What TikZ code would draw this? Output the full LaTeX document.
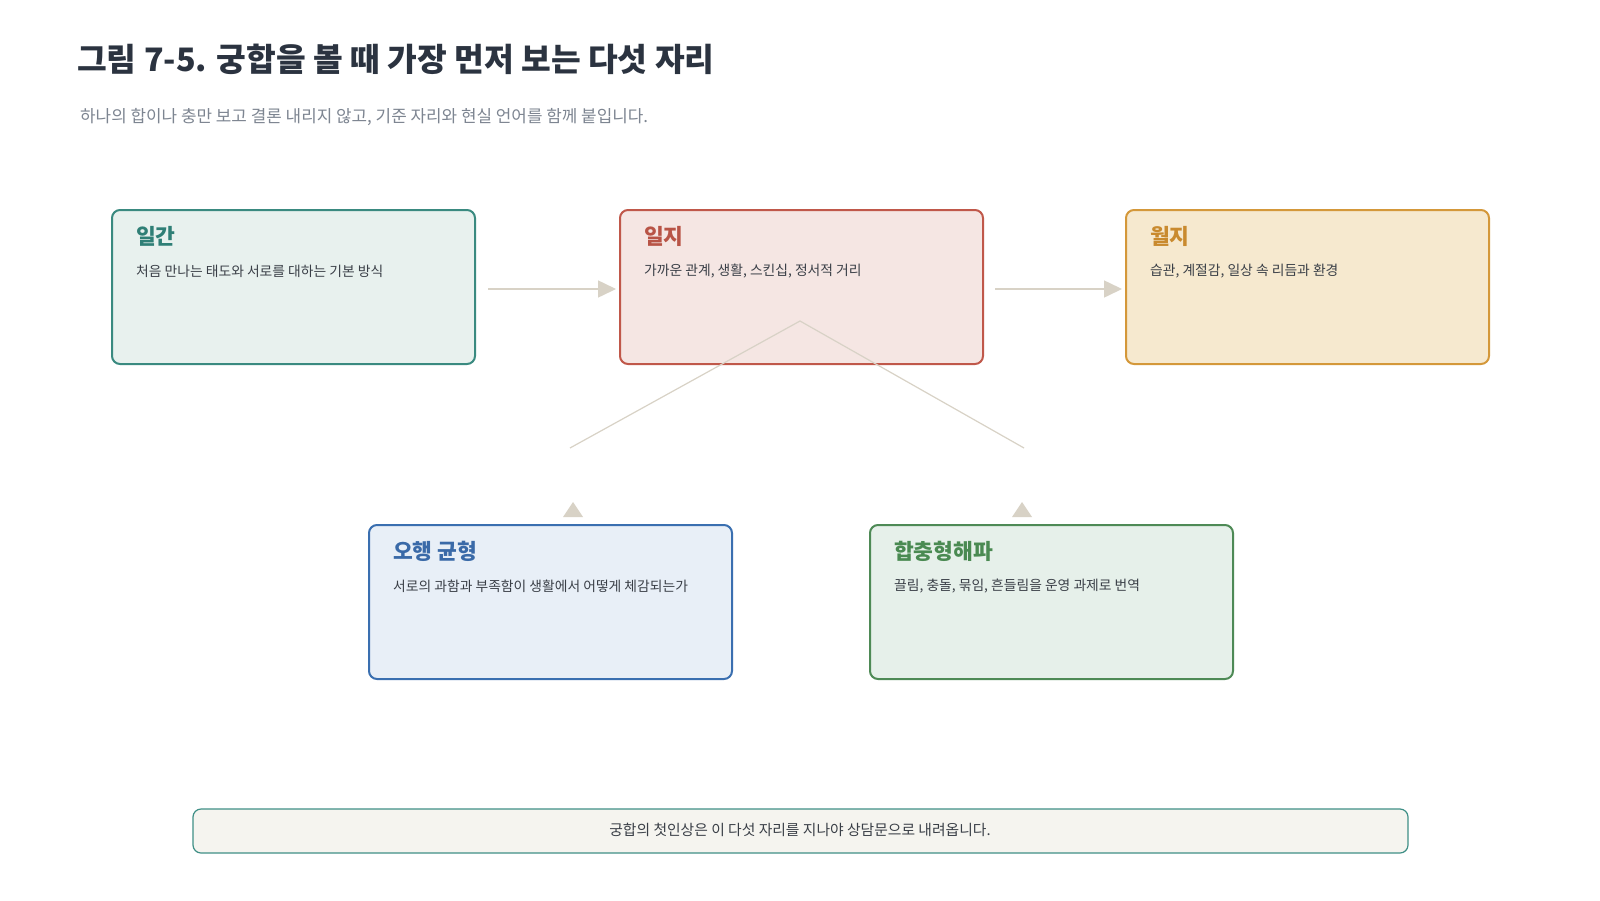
\documentclass[tikz,border=0pt]{standalone}
\usepackage{fontspec}
\setmainfont{Noto Sans CJK KR}
\usetikzlibrary{arrows.meta,calc}
\definecolor{ttl}{HTML}{2B3340}
\definecolor{sub}{HTML}{7D8591}
\definecolor{desc}{HTML}{3A3F47}
\definecolor{conn}{HTML}{D8D2C6}
\definecolor{aB}{HTML}{3A8A80}\definecolor{aF}{HTML}{E8F1EE}\definecolor{aT}{HTML}{2F7F76}
\definecolor{bB}{HTML}{C0584A}\definecolor{bF}{HTML}{F5E6E3}\definecolor{bT}{HTML}{B85446}
\definecolor{cB}{HTML}{D4983A}\definecolor{cF}{HTML}{F6E9CF}\definecolor{cT}{HTML}{C98A2E}
\definecolor{dB}{HTML}{3A6FB0}\definecolor{dF}{HTML}{E8EFF7}\definecolor{dT}{HTML}{3A6AA8}
\definecolor{eB}{HTML}{4E8A56}\definecolor{eF}{HTML}{E6F0EA}\definecolor{eT}{HTML}{4A8A52}
\definecolor{fB}{HTML}{3F8F86}\definecolor{fF}{HTML}{F5F4EF}
\tikzset{
  card/.style={draw, line width=2pt, rounded corners=8pt, minimum width=363pt, minimum height=154pt, inner sep=0pt, anchor=north west},
  cardtitle/.style={anchor=west, inner sep=0pt, font=\fontsize{21.5}{26}\selectfont\bfseries},
  carddesc/.style={anchor=west, inner sep=0pt, text=desc, font=\fontsize{13.8}{17}\selectfont},
  conn/.style={draw=conn, line width=1.5pt},
  tip/.style={fill=conn},
}
\begin{document}
\begin{tikzpicture}[x=1pt,y=-1pt]
\useasboundingbox[fill=white] (0,0) rectangle (1600,900);
\node[anchor=west, inner sep=0pt, text=ttl, font=\fontsize{32.3}{38}\selectfont\bfseries] (title) at (77,59) {그림 7-5. 궁합을 볼 때 가장 먼저 보는 다섯 자리};
\node[anchor=west, inner sep=0pt, text=sub, font=\fontsize{16.9}{20}\selectfont] (subtitle) at (80,117) {하나의 합이나 충만 보고 결론 내리지 않고, 기준 자리와 현실 언어를 함께 붙입니다.};

\node[card, draw=aB, fill=aF] (ilgan) at (111,209) {};
\node[card, draw=bB, fill=bF] (ilji) at (619,209) {};
\node[card, draw=cB, fill=cF] (wolji) at (1125,209) {};
\node[card, draw=dB, fill=dF] (ohaeng) at (368,524) {};
\node[card, draw=eB, fill=eF] (hap) at (869,524) {};

\foreach \n/\c/\t/\d in {ilgan/aT/일간/처음 만나는 태도와 서로를 대하는 기본 방식,
  ilji/bT/일지/가까운 관계{,} 생활{,} 스킨십{,} 정서적 거리,
  wolji/cT/월지/습관{,} 계절감{,} 일상 속 리듬과 환경,
  ohaeng/dT/오행 균형/서로의 과함과 부족함이 생활에서 어떻게 체감되는가,
  hap/eT/합충형해파/끌림{,} 충돌{,} 묶임{,} 흔들림을 운영 과제로 번역}{
  \node[cardtitle, text=\c] (\n-t) at ($(\n.north west)+(25,27)$) {\t};
  \node[carddesc] (\n-d) at ($(\n.north west)+(25,62)$) {\d};
}

\draw[conn, -{Triangle[length=18pt,width=17pt]}] ($(ilgan.east)+(12,2)$) -- ($(ilji.west)+(-3,2)$);
\draw[conn, -{Triangle[length=18pt,width=17pt]}] ($(ilji.east)+(11,2)$) -- ($(wolji.west)+(-3,2)$);

\coordinate (apex) at (800,321);
\coordinate (lend) at (570,448);
\coordinate (rend) at (1024,448);
\draw[conn, line width=1.2pt] (lend) -- (apex) -- (rend);
\fill[tip] (563,517) -- (583,517) -- (573,502) -- cycle;
\fill[tip] (1012,517) -- (1032,517) -- (1022,502) -- cycle;

\node[draw=fB, fill=fF, line width=1.2pt, rounded corners=8pt, minimum width=1215pt, minimum height=44pt, inner sep=0pt] (banner) at (800.5,831) {};
\node[inner sep=0pt, text=desc, font=\fontsize{14.8}{18}\selectfont] (banner-t) at (800,830) {궁합의 첫인상은 이 다섯 자리를 지나야 상담문으로 내려옵니다.};
\end{tikzpicture}
\end{document}
